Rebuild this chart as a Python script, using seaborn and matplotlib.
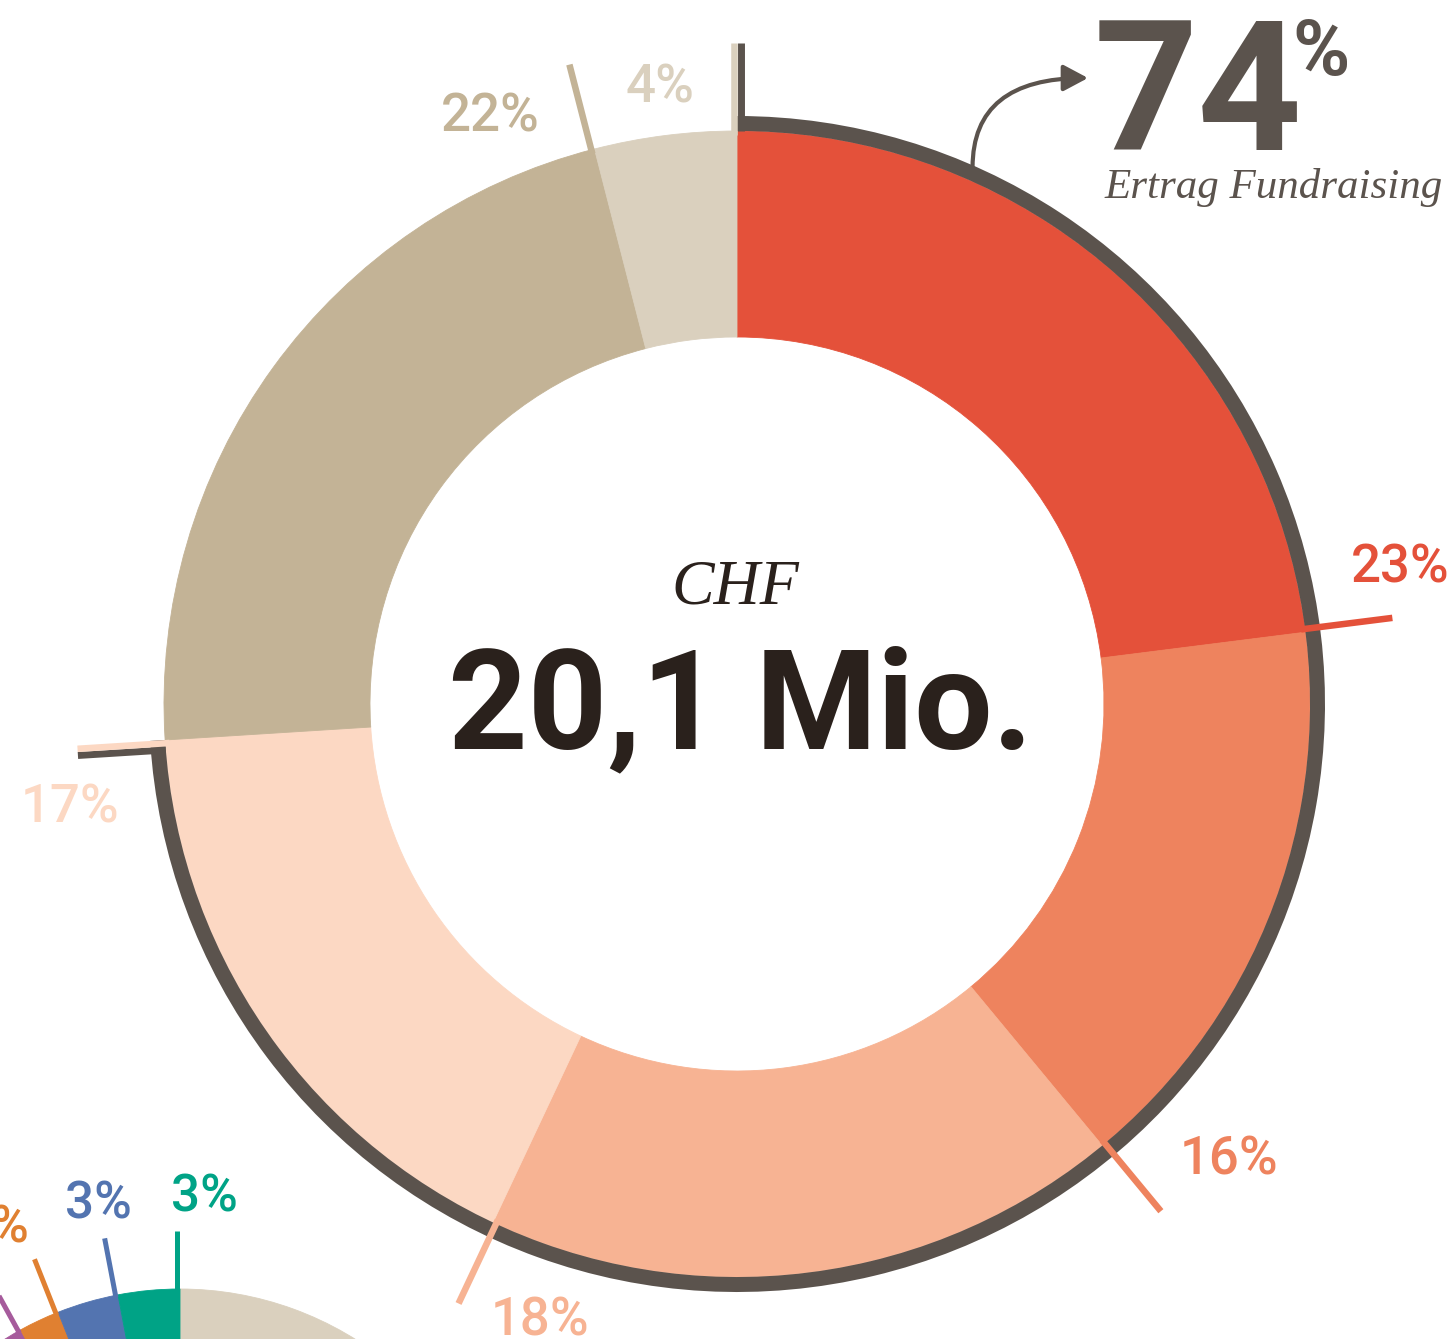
import numpy as np
import matplotlib
matplotlib.use("Agg")
import matplotlib.pyplot as plt
from matplotlib.patches import Wedge, FancyArrowPatch
import seaborn as sns

# main donut, clockwise from 12 o'clock
shares = [23, 16, 18, 17, 22, 4]
share_labels = ["23%", "16%", "18%", "17%", "22%", "4%"]
share_colors = ["#e4513a", "#ee835e", "#f7b393", "#fcd8c3", "#c3b396", "#dad0be"]
n_fundraising = 4          # the first four slices = Ertrag Fundraising
fundraising_pct = "74"
currency = "CHF"
total = "20,1 Mio."
caption = "Ertrag Fundraising"

# second donut, only its top left edge is in the picture
small_shares = [89, 3, 2, 3, 3]
small_labels = ["", "", "2%", "3%", "3%"]   # purple label lies outside the picture
small_colors = ["#dad0be", "#a65b9c", "#e08031", "#5374b0", "#00a386"]

# layout (pixels, image is 1454 x 1339, y measured upward)
W, H = 1454, 1339
DARK = "#5b534d"
INK = "#2a211c"
CENTER = (737, H - 704)
R_OUT, R_IN = 573, 367
BORDER = 15
TICK_END = 661
# label anchor: (angle clockwise from top, radius) of the baseline centre
label_pos = [(79.6, 674), (133.7, 681), (197.3, 661), (259.9, 678), (336.7, 623), (352.7, 606)]

S_CENTER = (180, H - 1620)
S_R_OUT, S_R_IN = 331, 212
S_TICK_END = 389
small_label_pos = [None, None, (-26.1, 420), (-11.5, 410), (3.4, 409)]


def polar(c, r, ang, shift=0.0):
    a = np.radians(ang)
    return (c[0] + r * np.sin(a) + shift * np.cos(a),
            c[1] + r * np.cos(a) - shift * np.sin(a))


def tick(ax, c, ang, r0, r1, shift, color, lw, z=5):
    p0 = polar(c, r0, ang, shift)
    p1 = polar(c, r1, ang, shift)
    ax.plot([p0[0], p1[0]], [p0[1], p1[1]], color=color, lw=lw,
            solid_capstyle="butt", zorder=z)


sns.set_theme(style="white")
plt.rcParams["font.family"] = ["Roboto", "DejaVu Sans"]

fig = plt.figure(figsize=(14.54, 13.39), dpi=100)
ax = fig.add_axes([0, 0, 1, 1])

# main donut
pal = sns.color_palette(share_colors)
wedges, _ = ax.pie(shares, colors=pal, startangle=90, counterclock=False,
                   radius=R_OUT, center=CENTER,
                   wedgeprops=dict(width=R_OUT - R_IN, linewidth=0))
for w in wedges:
    w.set_edgecolor(w.get_facecolor())
    w.set_linewidth(0.6)

ends = np.cumsum(shares) / np.sum(shares) * 360.0
fund_end = ends[n_fundraising - 1]

# dark bracket round the fundraising slices
ax.add_patch(Wedge(CENTER, R_OUT + BORDER, 90 - fund_end, 90, width=BORDER,
                   facecolor=DARK, edgecolor="none", zorder=3))
tick(ax, CENTER, 0.0, R_OUT, TICK_END, 3.5, DARK, 5.0, z=4)
tick(ax, CENTER, fund_end, R_OUT, TICK_END, -10.0, DARK, 5.0, z=4)

for i, lab in enumerate(share_labels):
    tick(ax, CENTER, ends[i], R_OUT - 4, TICK_END, -3.3, share_colors[i], 4.7)
    x, y = polar(CENTER, label_pos[i][1], label_pos[i][0])
    ax.text(x, y, lab, color=share_colors[i], fontsize=38, fontweight="medium",
            ha="center", va="baseline")

# centre text
ax.text(CENTER[0] - 2, H - 603, currency, family=["Liberation Serif", "DejaVu Serif"],
        style="italic", fontsize=46, color=INK, ha="center", va="baseline")
ax.text(CENTER[0] + 3, H - 748, total, fontsize=100, fontweight="bold",
        color=INK, ha="center", va="baseline")

# 74 % callout
ax.text(1094, H - 150, fundraising_pct, fontsize=131, fontweight="bold",
        color=DARK, ha="left", va="baseline")
ax.text(1292, H - 75, "%", fontsize=56, fontweight="bold",
        color=DARK, ha="left", va="baseline")
ax.text(1443, H - 198, caption, family=["Liberation Serif", "DejaVu Serif"],
        style="italic", fontsize=31, color=DARK, ha="right", va="baseline")
start = polar(CENTER, R_OUT + BORDER - 2, 23.7)
ax.add_patch(FancyArrowPatch(start, (1088, H - 78),
                             connectionstyle="angle3,angleA=90,angleB=0",
                             arrowstyle="-|>,head_length=0.75,head_width=0.4",
                             mutation_scale=20, color=DARK, lw=3,
                             shrinkA=0, shrinkB=0, zorder=4))

# second donut at the bottom left
s_wedges, _ = ax.pie(small_shares, colors=sns.color_palette(small_colors),
                     startangle=90, counterclock=False, radius=S_R_OUT,
                     center=S_CENTER,
                     wedgeprops=dict(width=S_R_OUT - S_R_IN, linewidth=0))
for w in s_wedges:
    w.set_edgecolor(w.get_facecolor())
    w.set_linewidth(0.6)

s_ends = np.cumsum(small_shares) / np.sum(small_shares) * 360.0
for i in range(1, len(small_shares)):
    tick(ax, S_CENTER, s_ends[i], S_R_OUT - 2, S_TICK_END, -2.5, small_colors[i], 3.6)
    if small_labels[i]:
        ang, r = small_label_pos[i]
        x, y = polar(S_CENTER, r, ang)
        ax.text(x, y, small_labels[i], color=small_colors[i], fontsize=37,
                fontweight="medium", ha="center", va="baseline")

ax.set_xlim(0, W)
ax.set_ylim(0, H)
ax.set_aspect("equal")
ax.axis("off")

fig.savefig("out.png", dpi=100)
